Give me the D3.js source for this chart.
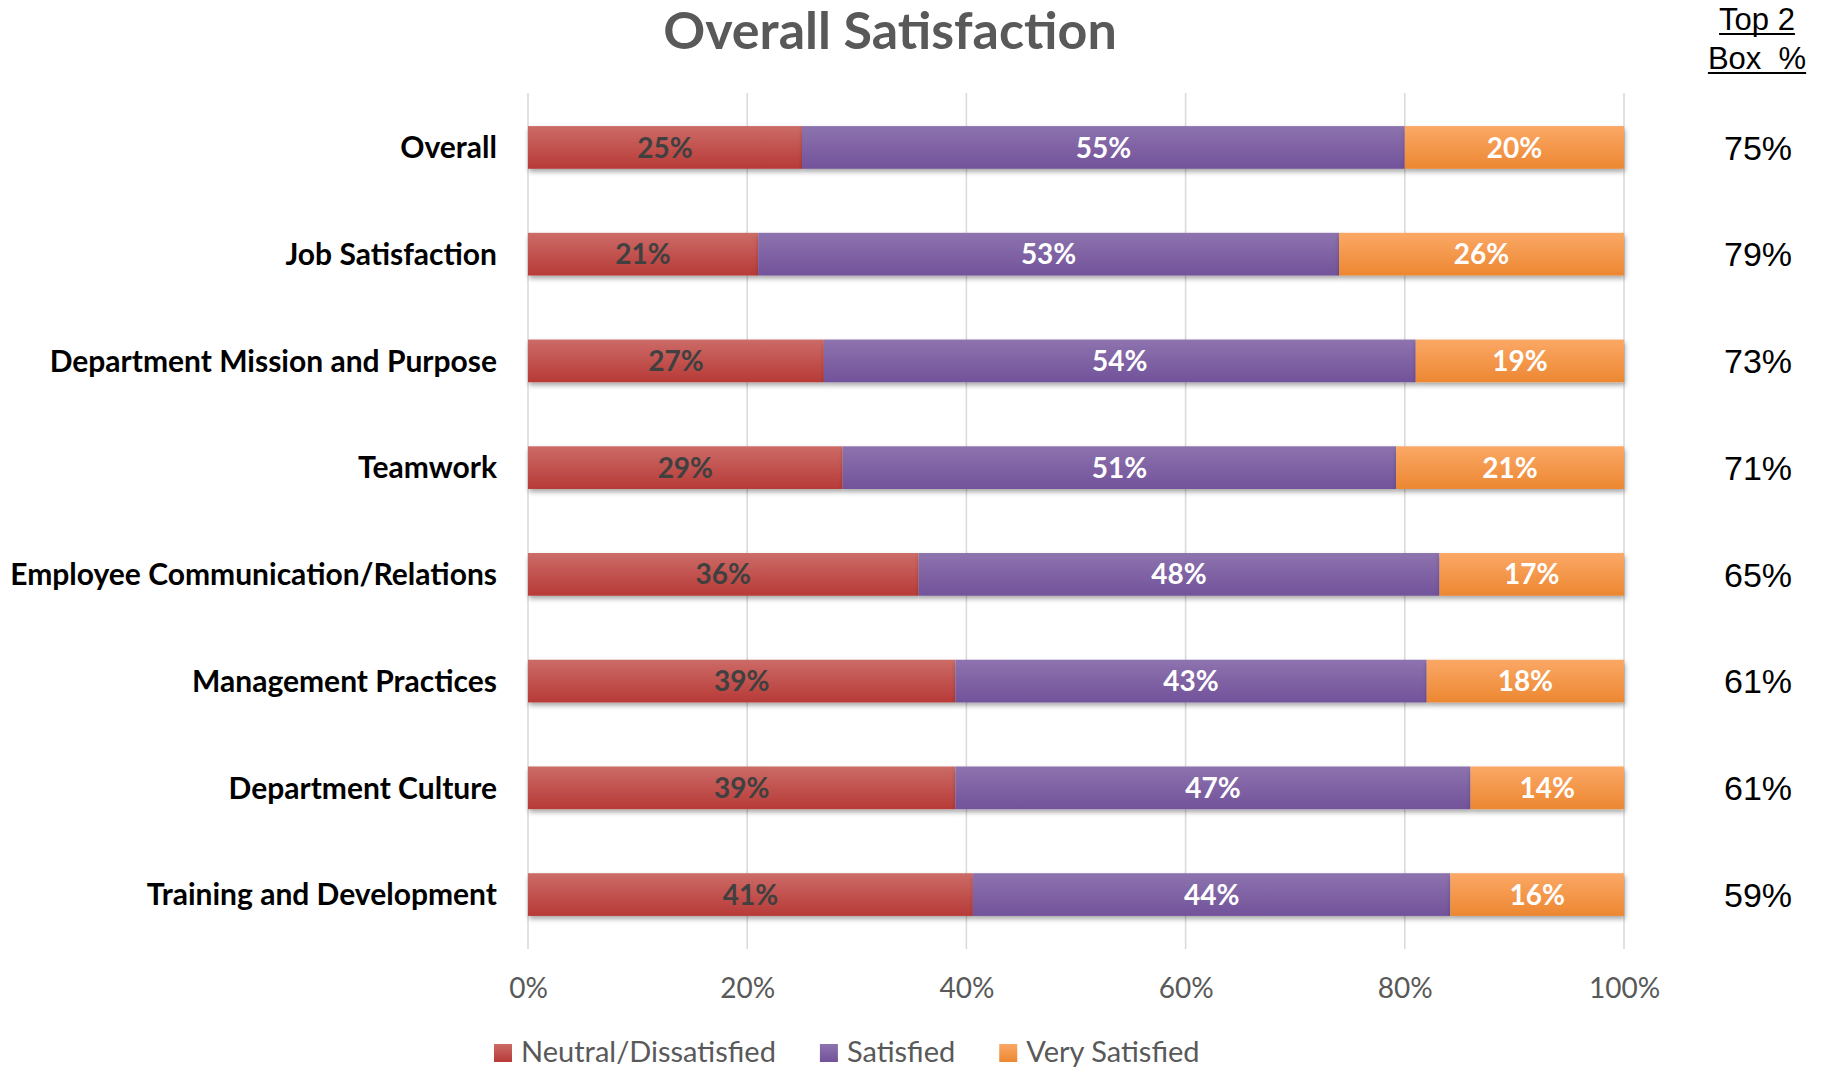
<!DOCTYPE html>
<html>
<head>
<meta charset="utf-8">
<script src="https://cdn.jsdelivr.net/npm/d3@7"></script>
<style>
    body { margin: 0; background: #ffffff; }
</style>
</head>
<body>
<div id="chart"></div>
<script>
// Overall Satisfaction - 100% stacked horizontal bars with a Top 2 Box column

//=================== DATA ====================================
var categories = ["Overall", "Job Satisfaction", "Department Mission and Purpose", "Teamwork",
    "Employee Communication/Relations", "Management Practices", "Department Culture",
    "Training and Development"];
var seriesNames = ["Neutral/Dissatisfied", "Satisfied", "Very Satisfied"];
var neutralValues = [25, 21, 27, 29, 36, 39, 39, 41];
var satisfiedValues = [55, 53, 54, 51, 48, 43, 47, 44];
var verySatisfiedValues = [20, 26, 19, 21, 17, 18, 14, 16];
var top2Box = [75, 79, 73, 71, 65, 61, 61, 59];
var tickValues = [0, 20, 40, 60, 80, 100];

//=================== LAYOUT ====================================
var svgWidth = 1825,
    svgHeight = 1071;
var plotLeft = 528,
    plotRight = 1624,
    plotTop = 93,
    plotBottom = 949;

var fillTop = ["#cc6b67", "#8d73ae", "#fba866"];
var fillBottom = ["#b73a37", "#72529a", "#ec8731"];
var labelColour = ["#404040", "#ffffff", "#ffffff"];

var svg = d3.select("#chart")
    .append("svg")
    .attr("width", svgWidth)
    .attr("height", svgHeight);

var defs = svg.append("defs");

// vertical gradients for each series
seriesNames.forEach(function (s, i) {
    var g = defs.append("linearGradient")
        .attr("id", "grad" + i)
        .attr("x1", 0).attr("y1", 0)
        .attr("x2", 0).attr("y2", 1);
    g.append("stop").attr("offset", "0%").attr("stop-color", fillTop[i]);
    g.append("stop").attr("offset", "100%").attr("stop-color", fillBottom[i]);
});

var shadow = defs.append("filter")
    .attr("id", "shadow")
    .attr("x", "-5%").attr("y", "-30%")
    .attr("width", "110%").attr("height", "180%");
shadow.append("feDropShadow")
    .attr("dx", 1).attr("dy", 3)
    .attr("stdDeviation", 2.5)
    .attr("flood-color", "#000")
    .attr("flood-opacity", 0.35);

// build stacked table, each row normalised to its own total
var table = categories.map(function (c, i) {
    var row = { category: c };
    row[seriesNames[0]] = neutralValues[i];
    row[seriesNames[1]] = satisfiedValues[i];
    row[seriesNames[2]] = verySatisfiedValues[i];
    return row;
});

var stack = d3.stack()
    .keys(seriesNames)
    .offset(d3.stackOffsetExpand);
var layers = stack(table);

var x = d3.scaleLinear()
    .domain([0, 1])
    .range([plotLeft, plotRight]);

var y = d3.scaleBand()
    .domain(categories)
    .range([plotTop, plotBottom])
    .paddingInner(0.6)
    .paddingOuter(0.31);

// gridlines
svg.append("g")
    .selectAll("line")
    .data(tickValues)
    .enter()
    .append("line")
    .attr("x1", function (d) { return x(d / 100); })
    .attr("x2", function (d) { return x(d / 100); })
    .attr("y1", plotTop)
    .attr("y2", plotBottom)
    .style("stroke", "#d9d9d9")
    .style("stroke-width", 1.5);

// x axis tick labels
var xAxis = d3.axisBottom(x)
    .tickValues(tickValues.map(function (d) { return d / 100; }))
    .tickFormat(d3.format(".0%"))
    .tickSize(0)
    .tickPadding(0);

var axisGrp = svg.append("g")
    .attr("transform", "translate(0," + 978 + ")")
    .call(xAxis);
axisGrp.select(".domain").remove();
axisGrp.selectAll("text")
    .attr("dy", "0.71em")
    .style("font-family", "Lato, sans-serif")
    .style("font-size", "28px")
    .style("fill", "#595959");

// bars
var layerGrp = svg.selectAll(".layer")
    .data(layers)
    .enter()
    .append("g")
    .attr("class", "layer")
    .attr("filter", "url(#shadow)")
    .style("fill", function (d, i) { return "url(#grad" + i + ")"; });

layerGrp.selectAll("rect")
    .data(function (d) { return d; })
    .enter()
    .append("rect")
    .attr("x", function (d) { return x(d[0]); })
    .attr("y", function (d) { return y(d.data.category); })
    .attr("width", function (d) { return x(d[1]) - x(d[0]); })
    .attr("height", y.bandwidth());

// segment labels
layers.forEach(function (layer, i) {
    svg.append("g")
        .selectAll("text")
        .data(layer)
        .enter()
        .append("text")
        .attr("x", function (d) { return (x(d[0]) + x(d[1])) / 2; })
        .attr("y", function (d) { return y(d.data.category) + y.bandwidth() / 2; })
        .attr("dy", "0.36em")
        .attr("text-anchor", "middle")
        .style("font-family", "Lato, sans-serif")
        .style("font-weight", "bold")
        .style("font-size", "28px")
        .style("fill", labelColour[i])
        .text(function (d) { return d.data[layer.key] + "%"; });
});

// category labels
svg.append("g")
    .selectAll("text")
    .data(categories)
    .enter()
    .append("text")
    .attr("x", 497)
    .attr("y", function (d) { return y(d) + y.bandwidth() / 2; })
    .attr("dy", "0.36em")
    .attr("text-anchor", "end")
    .style("font-family", "Lato, sans-serif")
    .style("font-weight", "bold")
    .style("font-size", "30px")
    .style("fill", "#000000")
    .text(function (d) { return d; });

// Top 2 Box column
svg.append("g")
    .selectAll("text")
    .data(top2Box)
    .enter()
    .append("text")
    .attr("x", 1758)
    .attr("y", function (d, i) { return y(categories[i]) + y.bandwidth() / 2; })
    .attr("dy", "0.36em")
    .attr("text-anchor", "middle")
    .style("font-family", "'Liberation Sans', Arial, sans-serif")
    .style("font-size", "34px")
    .style("fill", "#000000")
    .text(function (d) { return d + "%"; });

var headerLines = ["Top 2", "Box\u00a0\u00a0%"];
var headerBaselines = [30, 69];
headerLines.forEach(function (t, i) {
    var txt = svg.append("text")
        .attr("x", 1757)
        .attr("y", headerBaselines[i])
        .attr("text-anchor", "middle")
        .style("font-family", "'Liberation Sans', Arial, sans-serif")
        .style("font-size", "31px")
        .style("fill", "#000000")
        .text(t);
    var w = txt.node().getComputedTextLength();
    svg.append("line")
        .attr("x1", 1757 - w / 2)
        .attr("x2", 1757 + w / 2)
        .attr("y1", headerBaselines[i] + 4)
        .attr("y2", headerBaselines[i] + 4)
        .style("stroke", "#000")
        .style("stroke-width", 2);
});

// title
svg.append("text")
    .attr("x", 890)
    .attr("y", 49)
    .attr("text-anchor", "middle")
    .style("font-family", "Lato, sans-serif")
    .style("font-weight", "bold")
    .style("font-size", "52px")
    .style("fill", "#595959")
    .text("Overall Satisfaction");

// legend
var legendX = 494;
seriesNames.forEach(function (s, i) {
    svg.append("rect")
        .attr("x", legendX)
        .attr("y", 1044)
        .attr("width", 18)
        .attr("height", 18)
        .style("fill", "url(#grad" + i + ")");
    var t = svg.append("text")
        .attr("x", legendX + 27)
        .attr("y", 1062)
        .style("font-family", "Lato, sans-serif")
        .style("font-size", "29px")
        .style("fill", "#595959")
        .text(s);
    legendX += 27 + t.node().getComputedTextLength() + 44;
});
</script>
</body>
</html>
